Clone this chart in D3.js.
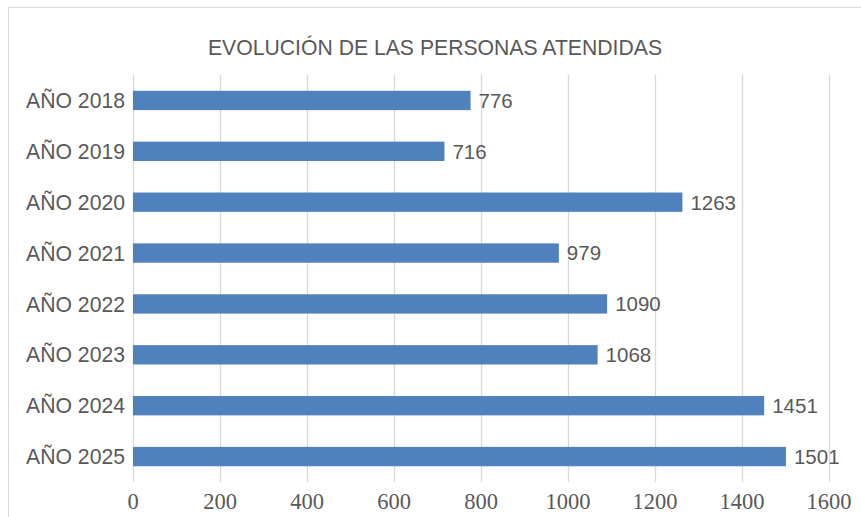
<!DOCTYPE html>
<html><head><meta charset="utf-8">
<script src="https://cdn.jsdelivr.net/npm/d3@7"></script>
<style>html,body{margin:0;padding:0;background:#fff;}</style>
</head><body>
<svg id="c" width="861" height="517"></svg>
<script>
const title = "EVOLUCIÓN DE LAS PERSONAS ATENDIDAS";
const categories = ["AÑO 2018","AÑO 2019","AÑO 2020","AÑO 2021","AÑO 2022","AÑO 2023","AÑO 2024","AÑO 2025"];
const values = [776, 716, 1263, 979, 1090, 1068, 1451, 1501];
const xTicks = [0, 200, 400, 600, 800, 1000, 1200, 1400, 1600];

const svg = d3.select("#c");
const textColor = "#595959";

svg.append("rect").attr("x", 8.5).attr("y", 7.5).attr("width", 900).attr("height", 600)
  .attr("fill", "#fff").attr("stroke", "#d9d9d9").attr("stroke-width", 1);

const x = d3.scaleLinear().domain([0, 1600]).range([133, 829]);
const y = d3.scaleBand().domain(categories).range([75, 482]).paddingInner(0.62).paddingOuter(0.31);

svg.append("text").attr("x", 435).attr("y", 55).attr("text-anchor", "middle")
  .attr("font-family", "Liberation Sans, Arial, sans-serif").attr("font-size", 21.2)
  .attr("fill", textColor).text(title);

svg.append("g").selectAll("line").data(xTicks).join("line")
  .attr("x1", d => Math.round(x(d)) + 0.5).attr("x2", d => Math.round(x(d)) + 0.5)
  .attr("y1", 75).attr("y2", 482)
  .attr("stroke", "#d9d9d9").attr("stroke-width", 1.3);

svg.append("g").selectAll("rect").data(values).join("rect")
  .attr("x", x(0)).attr("y", (d, i) => y(categories[i]))
  .attr("width", d => x(d) - x(0)).attr("height", y.bandwidth())
  .attr("fill", "#4f81bd");

svg.append("g").selectAll("text").data(values).join("text")
  .attr("x", d => x(d) + 8).attr("y", (d, i) => y(categories[i]) + y.bandwidth() / 2)
  .attr("dy", "0.36em")
  .attr("font-family", "Liberation Sans, Arial, sans-serif").attr("font-size", 20.5)
  .attr("fill", textColor).text(d => d);

svg.append("g").selectAll("text").data(categories).join("text")
  .attr("x", 125).attr("y", d => y(d) + y.bandwidth() / 2)
  .attr("dy", "0.36em").attr("text-anchor", "end")
  .attr("font-family", "Liberation Sans, Arial, sans-serif").attr("font-size", 21.2)
  .attr("fill", textColor).text(d => d);

svg.append("g").selectAll("text").data(xTicks).join("text")
  .attr("x", d => x(d)).attr("y", 509).attr("text-anchor", "middle")
  .attr("font-family", "Liberation Serif, Times New Roman, serif").attr("font-size", 22.5)
  .attr("fill", textColor).text(d => d);
</script>
</body></html>
